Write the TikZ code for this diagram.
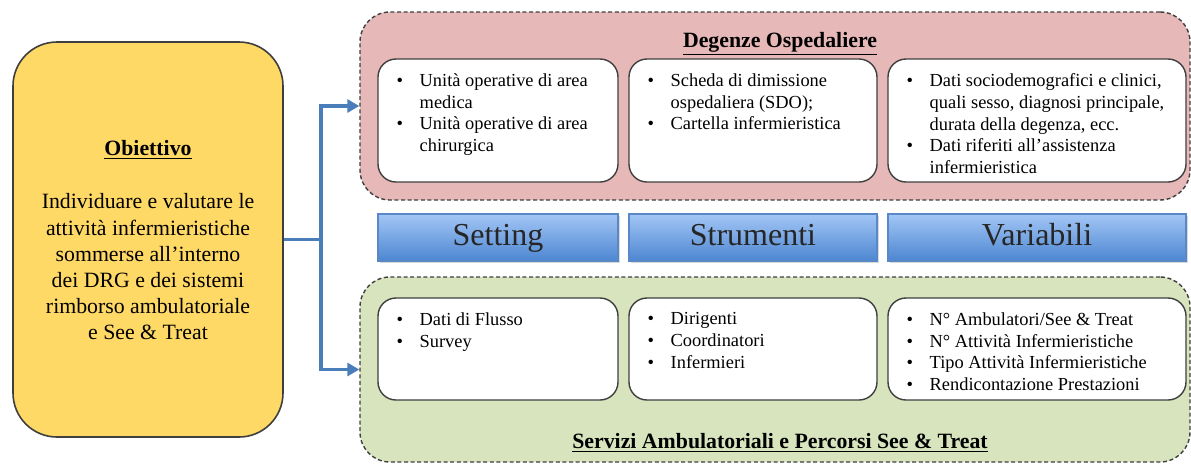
\documentclass[tikz,border=0pt]{standalone}
\usepackage{fontspec}
\setmainfont{Liberation Serif}
\usetikzlibrary{positioning,arrows.meta,shadows}
\definecolor{goalfill}{HTML}{FFD966}
\definecolor{degfill}{HTML}{E6B9B8}
\definecolor{ambfill}{HTML}{D7E4BD}
\definecolor{barTop}{HTML}{A3C6F6}
\definecolor{barBot}{HTML}{4C86D1}
\definecolor{barLine}{HTML}{5A88C6}
\definecolor{linkblue}{HTML}{4A7EBB}
\definecolor{edge}{HTML}{3F3F3F}
\newcommand{\blt}{\makebox[11.5pt][l]{\textbullet}}
\newcommand{\indt}{\hspace*{11.5pt}}

\begin{document}
\begin{tikzpicture}[x=0.5pt,y=-0.5pt,
  goalbox/.style={rectangle, rounded corners=22pt, draw=edge, line width=0.8pt, fill=goalfill, minimum width=135pt, minimum height=197.5pt},
  panel/.style={rectangle, rounded corners=15pt, draw=edge, line width=0.7pt, dash pattern=on 2pt off 1.3pt, minimum width=415pt},
  card/.style={rectangle, rounded corners=9pt, draw=edge, line width=0.7pt, fill=white},
  bar/.style={rectangle, draw=barLine, line width=0.6pt, top color=barTop, bottom color=barBot, minimum height=23.5pt,
    font=\fontsize{16}{18}\selectfont, text=black!85, text height=11pt, text depth=3.5pt,
    drop shadow={shadow xshift=0.8pt, shadow yshift=-1pt, opacity=0.3}},
  list/.style={align=left, inner sep=0pt, font=\fontsize{9.2}{10.85}\selectfont},
  title/.style={font=\fontsize{10.9}{13.1}\selectfont\bfseries},
  link/.style={draw=linkblue, line width=1.6pt}]
\useasboundingbox (0,0) rectangle (1191,463);
% Define the nodes
\node[goalbox] at (148,239.5) (goal) {};
\node[title] at (148,150) (goaltitle) {\underline{Obiettivo}};
\node[align=center, font=\fontsize{10.9}{13.1}\selectfont] at (148,267) (goaltext) {Individuare e valutare le\\attività infermieristiche\\sommerse all’interno\\dei DRG e dei sistemi\\rimborso ambulatoriale\\e See \& Treat};

\node[panel, fill=degfill, minimum height=94pt] at (775,106) (deg) {};
\node[title] at (780,44) (degtitle) {\underline{Degenze Ospedaliere}};
\node[card, minimum width=120pt, minimum height=61.5pt] at (498,120.5) (s1) {};
\node[card, minimum width=124pt, minimum height=61.5pt] at (753,120.5) (t1) {};
\node[card, minimum width=149pt, minimum height=61.5pt] at (1037,120.5) (v1) {};

\node[bar, minimum width=120pt] at (498,237.5) (setting) {Setting};
\node[bar, minimum width=124pt] at (753,237.5) (strumenti) {Strumenti};
\node[bar, minimum width=149pt] at (1037,237.5) (variabili) {Variabili};

\node[panel, fill=ambfill, minimum height=92.5pt] at (775,369.5) (amb) {};
\node[title] at (780,443) (ambtitle) {\underline{Servizi Ambulatoriali e Percorsi See \& Treat}};
\node[card, minimum width=120pt, minimum height=51pt] at (498,349) (s2) {};
\node[card, minimum width=124pt, minimum height=51pt] at (753,349) (t2) {};
\node[card, minimum width=149pt, minimum height=51pt] at (1037,349) (v2) {};

% Lists inside the cards
\node[list, below right=7.5pt and 9.5pt of s1.north west] (s1txt) {\blt Unità operative di area\\\indt medica\\\blt Unità operative di area\\\indt chirurgica};
\node[list, below right=7.5pt and 9.5pt of t1.north west] (t1txt) {\blt Scheda di dimissione\\\indt ospedaliera (SDO);\\\blt Cartella infermieristica};
\node[list, below right=7.5pt and 9.5pt of v1.north west] (v1txt) {\blt Dati sociodemografici e clinici,\\\indt quali sesso, diagnosi principale,\\\indt durata della degenza, ecc.\\\blt Dati riferiti all’assistenza\\\indt infermieristica};
\node[list, below right=7.5pt and 9.5pt of s2.north west] (s2txt) {\blt Dati di Flusso\\\blt Survey};
\node[list, below right=7.5pt and 9.5pt of t2.north west] (t2txt) {\blt Dirigenti\\\blt Coordinatori\\\blt Infermieri};
\node[list, below right=7.5pt and 9.5pt of v2.north west] (v2txt) {\blt N° Ambulatori/See \& Treat\\\blt N° Attività Infermieristiche\\\blt Tipo Attività Infermieristiche\\\blt Rendicontazione Prestazioni};

% Draw the paths
\coordinate (fork) at (321,239.5);
\draw[link] (goal.east) -- (fork);
\draw[link, -{Triangle[length=6pt,width=6.5pt]}] (fork) |- (deg.west);
\draw[link, -{Triangle[length=6pt,width=6.5pt]}] (fork) |- (amb.west);
\end{tikzpicture}
\end{document}
